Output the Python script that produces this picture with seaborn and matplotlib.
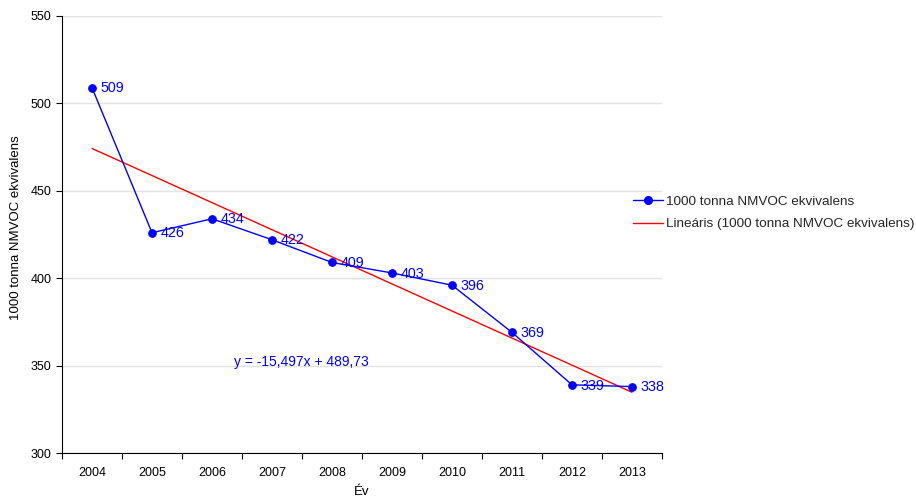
import matplotlib
matplotlib.use("Agg")
import matplotlib.pyplot as plt
import seaborn as sns
import numpy as np
import pandas as pd
from matplotlib.lines import Line2D

years = ["2004", "2005", "2006", "2007", "2008", "2009", "2010", "2011", "2012", "2013"]
values = [509, 426, 434, 422, 409, 403, 396, 369, 339, 338]
slope = -15.497
intercept = 489.73
series_name = "1000 tonna NMVOC ekvivalens"
trend_name = "Lineáris (1000 tonna NMVOC ekvivalens)"
equation = "y = -15,497x + 489,73"
y_label = "1000 tonna NMVOC ekvivalens"
x_label = "Év"

sns.set_theme(style="white")
plt.rcParams['font.family'] = ['Liberation Sans', 'DejaVu Sans']

df = pd.DataFrame({"pos": np.arange(len(years)), "year": years, "value": values})
df["trend"] = slope * (df["pos"] + 1) + intercept

fig = plt.figure(figsize=(9.16, 4.97), dpi=100)
ax = fig.add_axes([62/916, 44/497, 600/916, 437/497])

sns.lineplot(data=df, x="pos", y="trend", ax=ax, color="#ff0000", linewidth=1.0)
sns.lineplot(data=df, x="pos", y="value", ax=ax, color="#0000ff", linewidth=1.0,
             marker="o", markersize=5.5, markeredgecolor="#0000ff")

for p, v in zip(df["pos"], df["value"]):
    ax.annotate(str(v), (p, v), xytext=(6, -0.5), textcoords="offset points",
                va="center", ha="left", color="#0000ff", fontsize=10.3)

ax.text(2.36, 352, equation, color="#0000ff", fontsize=10, ha="left", va="center")

ax.set_xlim(-0.5, len(years) - 0.5)
ax.set_ylim(300, 550)
ax.set_yticks(range(300, 551, 50))
ax.set_xticks(df["pos"])
ax.set_xticklabels(years)
ax.set_xticks(np.arange(-0.5, len(years), 1.0), minor=True)
ax.tick_params(axis="x", which="major", length=0, labelsize=9, pad=10, colors="#000000")
ax.tick_params(axis="x", which="minor", length=4, width=0.8, direction="out", color="#000000", bottom=True)
ax.tick_params(axis="y", length=4, width=0.8, direction="out", labelsize=9, colors="#000000", left=True)
ax.grid(axis="y", color="#e3e3e3", linewidth=1.0)
ax.set_axisbelow(True)
for s in ["top", "right"]:
    ax.spines[s].set_visible(False)
for s in ["left", "bottom"]:
    ax.spines[s].set_color("#000000")
    ax.spines[s].set_linewidth(0.8)

ax.set_ylabel(y_label, fontsize=9.5, color="#000000")
ax.yaxis.set_label_coords(-0.066, 0.515)
ax.set_xlabel(x_label, fontsize=9.5, color="#000000", labelpad=5)

handles = [Line2D([0], [0], color="#0000ff", marker="o", markersize=5.5, linewidth=1.0),
           Line2D([0], [0], color="#ff0000", linewidth=1.0)]
fig.legend(handles, [series_name, trend_name], loc="center left",
           bbox_to_anchor=(628/916, 284/497), frameon=False, fontsize=9.7,
           handlelength=2.2, handletextpad=0.25, labelspacing=0.75, borderaxespad=0)

fig.savefig("out.png", dpi=100)
